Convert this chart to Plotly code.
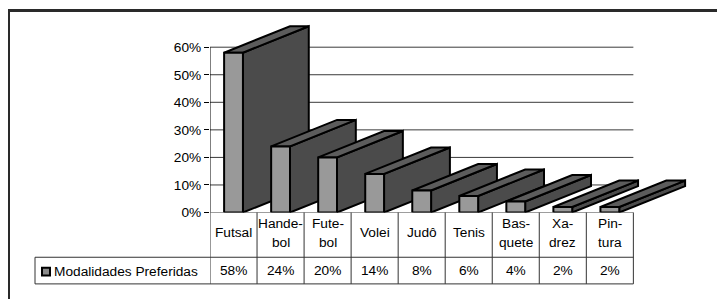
import plotly.graph_objects as go

# ---- data ----
categories = ["Futsal", "Hande-\nbol", "Fute-\nbol", "Volei", "Judô", "Tenis", "Bas-\nquete", "Xa-\ndrez", "Pin-\ntura"]
values = [58, 24, 20, 14, 8, 6, 4, 2, 2]
series_name = "Modalidades Preferidas"
y_ticks = [0, 10, 20, 30, 40, 50, 60]
y_tick_labels = ["0%", "10%", "20%", "30%", "40%", "50%", "60%"]

# ---- geometry / style ----
OFF = 8  # default page body margin
W, H = 725 - OFF, 299 - OFF
X_MIN, X_MAX = -0.5, 10.0
Y_MIN, Y_MAX = 0, 70
px_axis_left, px_per_cat = 210.0 - OFF, 47.04
px_y0, px_per_pct = 218.3 - OFF, 2.8333

xd0 = px_axis_left / W
xd1 = (px_axis_left + (X_MAX - X_MIN) * px_per_cat) / W
yd0 = 1 - px_y0 / H
yd1 = 1 - (px_y0 - (Y_MAX - Y_MIN) * px_per_pct) / H

def py(p):  # page pixel y -> paper
    return 1 - (p - OFF) / H

def px(p):  # page pixel x -> paper
    return (p - OFF) / W

HALF = 0.2     # half width of front face (category units)
DX = 1.40      # depth offset in category units
DY = 9.6       # depth offset in % units
FRONT, SIDE, TOP = "#999999", "#4b4b4b", "#5c5c5c"
FONT = dict(family="Liberation Sans, Arial, sans-serif", size=13.7, color="black")

fig = go.Figure()

def face(xs, ys, color):
    fig.add_trace(go.Scatter(
        x=xs + [xs[0]], y=ys + [ys[0]], mode="lines", fill="toself",
        fillcolor=color, line=dict(color="black", width=2),
        hoverinfo="skip", showlegend=False))

for i, v in enumerate(values):
    l, r = i - HALF, i + HALF
    face([r, r, r + DX, r + DX], [0, v, v + DY, DY], SIDE)
    face([l, r, r + DX, l + DX], [v, v, v + DY, v + DY], TOP)
    face([l, r, r, l], [0, 0, v, v], FRONT)

shapes = []
n = len(categories)
for t in y_ticks:
    shapes.append(dict(type="line", xref="x", yref="y", x0=-0.5, x1=n - 0.5, y0=t, y1=t,
                       line=dict(color="#3a3a3a", width=1), layer="below"))
shapes.append(dict(type="line", xref="x", yref="y", x0=-0.5, x1=-0.5, y0=0, y1=max(y_ticks),
                   line=dict(color="black", width=1), layer="below"))

# data table
row_top, row_mid, row_bot = 218.3, 264.3, 291.7
legend_left = 35.0
for i in range(n + 1):
    shapes.append(dict(type="line", xref="x", yref="paper", x0=i - 0.5, x1=i - 0.5,
                       y0=py(row_top), y1=py(row_bot), line=dict(color="#333333", width=1)))
x_tab_right = xd0 + (n - 0.5 - X_MIN) / (X_MAX - X_MIN) * (xd1 - xd0)
for r in (row_mid, row_bot):
    shapes.append(dict(type="line", xref="paper", yref="paper", x0=px(legend_left), x1=x_tab_right,
                       y0=py(r), y1=py(r), line=dict(color="#333333", width=1)))
shapes.append(dict(type="line", xref="paper", yref="paper", x0=px(legend_left), x1=px(legend_left),
                   y0=py(row_mid), y1=py(row_bot), line=dict(color="#333333", width=1)))
shapes.append(dict(type="rect", xref="paper", yref="paper", x0=px(42), x1=px(50),
                   y0=py(283), y1=py(275), fillcolor="#8a8a8a", line=dict(color="black", width=2)))
shapes.append(dict(type="rect", xref="paper", yref="paper", x0=px(8.5), x1=1.05,
                   y0=-0.05, y1=py(10.5), line=dict(color="#2a2a2a", width=3)))

annotations = []
for i, c in enumerate(categories):
    lines = c.split("\n")
    if len(lines) == 1:
        annotations.append(dict(x=i, y=py(239), xref="x", yref="paper", text=lines[0],
                                showarrow=False, font=FONT, xanchor="center", yanchor="middle"))
    else:
        for ln, yy in zip(lines, (229.7, 248.8)):
            annotations.append(dict(x=i, y=py(yy), xref="x", yref="paper", text=ln,
                                    showarrow=False, font=FONT, xanchor="center", yanchor="middle"))
for i, v in enumerate(values):
    annotations.append(dict(x=i, y=py(278.3), xref="x", yref="paper", text=f"{v}%",
                            showarrow=False, font=FONT, xanchor="center", yanchor="middle"))
annotations.append(dict(x=px(51.5), y=py(278.8), xref="paper", yref="paper", text=series_name,
                        showarrow=False, font=FONT, xanchor="left", yanchor="middle"))

fig.update_layout(
    width=W, height=H, margin=dict(l=0, r=0, t=0, b=0),
    paper_bgcolor="white", plot_bgcolor="rgba(0,0,0,0)",
    showlegend=False, shapes=shapes, annotations=annotations,
    xaxis=dict(domain=[xd0, xd1], range=[X_MIN, X_MAX], visible=False, fixedrange=True),
    yaxis=dict(domain=[yd0, yd1], range=[Y_MIN, Y_MAX], showgrid=False, zeroline=False,
               showline=False, tickmode="array", tickvals=y_ticks, ticktext=y_tick_labels,
               ticks="outside", ticklen=5, tickcolor="black", tickwidth=1,
               tickfont=FONT, fixedrange=True),
)

fig.write_html("out.html")
